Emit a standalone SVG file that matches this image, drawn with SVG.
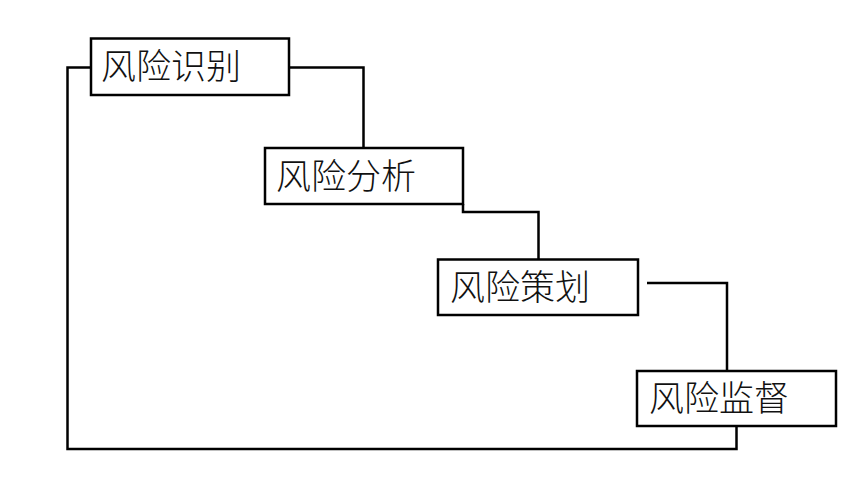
<svg xmlns="http://www.w3.org/2000/svg" width="865" height="498" viewBox="0 0 865 498">
<style>
.box{fill:#fff;stroke:#000;stroke-width:2.5}
.lbl{font-family:"Noto Sans CJK SC","Noto Sans CJK JP",sans-serif;font-size:35px;font-weight:300;fill:#111}
.con{fill:none;stroke:#000;stroke-width:2.5}
</style>
<rect width="865" height="498" fill="#fff"/>
<g id="connectors">
<polyline class="con" points="289,67.5 363.5,67.5 363.5,148"/>
<polyline class="con" points="463,204 463,212 538.5,212 538.5,259"/>
<polyline class="con" points="647,283 727,283 727,371"/>
<polyline class="con" points="736.5,426 736.5,449 67.5,449 67.5,67.5 91,67.5"/>
</g>
<g id="n1"><rect class="box" x="91" y="38.5" width="198" height="56.5"/><text class="lbl" x="101" y="79">风险识别</text></g>
<g id="n2"><rect class="box" x="265" y="148" width="198" height="56"/><text class="lbl" x="276" y="189">风险分析</text></g>
<g id="n3"><rect class="box" x="438" y="259.5" width="200" height="55.5"/><text class="lbl" x="450" y="300">风险策划</text></g>
<g id="n4"><rect class="box" x="637" y="371" width="199" height="55"/><text class="lbl" x="649" y="411">风险监督</text></g>
</svg>
